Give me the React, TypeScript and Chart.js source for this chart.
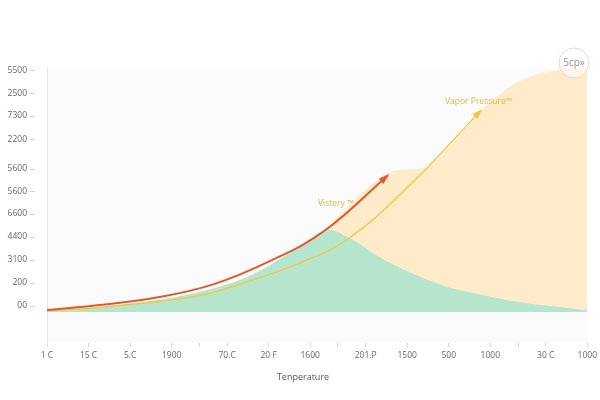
import React, { useEffect, useRef } from "react";
import { Chart, registerables } from "chart.js";

Chart.register(...registerables);

// ---- tick positions & labels ----
const xTickPos = [0, 3, 6, 9, 11, 13, 16, 19, 21, 23, 26, 29, 32, 34, 36, 39];
const xTickLabels = ["1 C", "15 C", "5.C", "1900", "", "70.C", "20 F", "1600", "", "201.P", "1500", "500", "1000", "", "30 C", "1000"];
const yTickPos = [0, 1.03, 2.03, 3.05, 4.05, 5.05, 6.05, 7.34, 8.37, 9.37, 10.37];
const yTickLabels = ["00", "200", "3100", "4400", "6600", "5600", "5600", "2200", "7300", "2500", "5500"];

// ---- series ----
const viscosityX = [0, 4, 8, 12, 16, 20, 24.6];
const viscosityY = [-0.18, 0.05, 0.38, 0.95, 1.95, 3.3, 5.75];

const vaporX = [0, 4, 11, 14.6, 18.2, 21.8, 26.4, 31.3];
const vaporY = [-0.22, -0.05, 0.46, 1.1, 1.88, 2.98, 5.45, 8.6];

const greenX = [0, 3.8, 7.4, 11, 14.6, 18.2, 20.2, 21.8, 24.1, 26.6, 28.9, 31.1, 34, 36.9, 39];
const greenY = [-0.22, -0.04, 0.22, 0.62, 1.32, 2.6, 3.35, 3.0, 2.11, 1.37, 0.84, 0.53, 0.18, -0.04, -0.18];

const creamX = [0, 11, 18.2, 20.3, 22.5, 24.6, 26.1, 27.4, 28.4, 29.5, 31.3, 32.9, 34.3, 36.1, 37.9, 39];
const creamY = [-0.22, 0.18, 2.1, 3.44, 4.85, 5.86, 6.02, 6.1, 6.6, 7.35, 8.6, 9.43, 9.96, 10.3, 10.44, 10.44];

const baseline = -0.26;

const zip = (xs: number[], ys: number[]) => xs.map((x, i) => ({ x, y: ys[i] }));

const FONT = "'Open Sans', 'DejaVu Sans', sans-serif";

function arrowHead(ctx: CanvasRenderingContext2D, pts: any[], color: string, len: number, wid: number) {
  const n = pts.length;
  if (n < 2) return;
  const p = pts[n - 1];
  let px = p.cp1x, py = p.cp1y;
  if (px === undefined || (Math.abs(px - p.x) < 0.5 && Math.abs(py - p.y) < 0.5)) {
    px = pts[n - 2].x; py = pts[n - 2].y;
  }
  const a = Math.atan2(p.y - py, p.x - px);
  ctx.save();
  ctx.translate(p.x, p.y);
  ctx.rotate(a);
  ctx.fillStyle = color;
  ctx.beginPath();
  ctx.moveTo(2, 0);
  ctx.lineTo(-len, -wid / 2);
  ctx.lineTo(-len, wid / 2);
  ctx.closePath();
  ctx.fill();
  ctx.restore();
}

const decorPlugin = {
  id: "decor",
  beforeDraw(chart: any) {
    const { ctx, chartArea } = chart;
    ctx.save();
    ctx.fillStyle = "#fbfbfb";
    ctx.fillRect(chartArea.left, chartArea.top, chartArea.right - chartArea.left, chartArea.bottom - chartArea.top);
    ctx.restore();
  },
  afterDraw(chart: any) {
    const { ctx } = chart;
    const yScale = chart.scales.y;
    ctx.save();
    // y tick dashes
    ctx.strokeStyle = "#d6d6d6";
    ctx.lineWidth = 1;
    yTickPos.forEach((v) => {
      const py = Math.round(yScale.getPixelForValue(v)) + 0.5;
      ctx.beginPath();
      ctx.moveTo(30, py);
      ctx.lineTo(35, py);
      ctx.stroke();
    });
    // arrowheads
    arrowHead(ctx, chart.getDatasetMeta(0).data, "#e0582c", 9, 7);
    arrowHead(ctx, chart.getDatasetMeta(1).data, "#f2c53d", 8, 7);
    // annotations
    ctx.font = `8.5px ${FONT}`;
    ctx.textBaseline = "middle";
    ctx.textAlign = "left";
    ctx.fillStyle = "#d2b850";
    ctx.fillText("Vistery ™", 318, 204);
    ctx.fillStyle = "#dcb64e";
    ctx.fillText("Vapor Pressure™", 445, 102);
    // axis title
    ctx.fillStyle = "#555";
    ctx.textAlign = "center";
    ctx.font = `9px ${FONT}`;
    ctx.fillText("Tenperature", 303, 377);
    // badge
    ctx.beginPath();
    ctx.arc(574, 63, 15, 0, Math.PI * 2);
    ctx.fillStyle = "rgba(255,255,255,0.55)";
    ctx.fill();
    ctx.strokeStyle = "#ead6d6";
    ctx.lineWidth = 1;
    ctx.stroke();
    ctx.fillStyle = "#a98a8a";
    ctx.font = `10px ${FONT}`;
    ctx.fillText("5cp»", 574, 63);
    ctx.restore();
  },
};

export default function App() {
  const ref = useRef<HTMLCanvasElement | null>(null);
  useEffect(() => {
    if (!ref.current) return;
    const chart = new Chart(ref.current, {
      type: "line",
      data: {
        datasets: [
          {
            label: "Viscosity",
            data: zip(viscosityX, viscosityY),
            borderColor: "#e0582c",
            borderWidth: 2,
            pointRadius: 0,
            fill: false,
            tension: 0.4,
            order: 0,
          },
          {
            label: "Vapor Pressure",
            data: zip(vaporX, vaporY),
            borderColor: "#f2c53d",
            borderWidth: 1.2,
            pointRadius: 0,
            fill: false,
            tension: 0.4,
            order: 1,
          },
          {
            label: "Green",
            data: zip(greenX, greenY),
            borderWidth: 0,
            borderColor: "rgba(0,0,0,0)",
            backgroundColor: "#b5e5cd",
            pointRadius: 0,
            fill: { value: baseline },
            tension: 0.35,
            order: 2,
          },
          {
            label: "Cream",
            data: zip(creamX, creamY),
            borderWidth: 0,
            borderColor: "rgba(0,0,0,0)",
            backgroundColor: "#fdebc9",
            pointRadius: 0,
            fill: { value: baseline },
            cubicInterpolationMode: "monotone",
            order: 3,
          },
        ],
      } as any,
      options: {
        responsive: false,
        animation: false,
        layout: { padding: { top: 68, right: 10, left: 0, bottom: 0 } },
        plugins: { legend: { display: false }, tooltip: { enabled: false }, title: { display: false } },
        scales: {
          x: {
            type: "linear",
            min: 0,
            max: 39,
            afterBuildTicks: (scale: any) => {
              scale.ticks = xTickPos.map((v) => ({ value: v }));
            },
            afterFit: (scale: any) => {
              scale.height = 57;
            },
            ticks: {
              autoSkip: false,
              maxRotation: 0,
              padding: 3,
              color: "#666",
              font: { size: 8.5, family: FONT },
              callback: (v: any) => {
                const i = xTickPos.indexOf(Number(v));
                return i >= 0 ? xTickLabels[i] : "";
              },
            },
            grid: { drawOnChartArea: false, tickLength: 4, color: "#d8d8d8" },
            border: { display: false },
          },
          y: {
            type: "linear",
            min: -1.63,
            max: 10.48,
            afterBuildTicks: (scale: any) => {
              scale.ticks = yTickPos.map((v) => ({ value: v }));
            },
            afterFit: (scale: any) => {
              scale.width = 47;
            },
            ticks: {
              autoSkip: false,
              padding: 20,
              color: "#666",
              font: { size: 8.5, family: FONT },
              callback: (v: any) => {
                const i = yTickPos.indexOf(Number(v));
                return i >= 0 ? yTickLabels[i] : "";
              },
            },
            grid: { drawOnChartArea: false, drawTicks: false },
            border: { display: true, color: "#e4e4e4" },
          },
        },
      } as any,
      plugins: [decorPlugin],
    });
    return () => chart.destroy();
  }, []);
  return (
    <div style={{ position: "fixed", left: 0, top: 0, width: 600, height: 400, background: "#fff" }}>
      <canvas ref={ref} width={600} height={400} style={{ width: 600, height: 400 }} />
    </div>
  );
}
